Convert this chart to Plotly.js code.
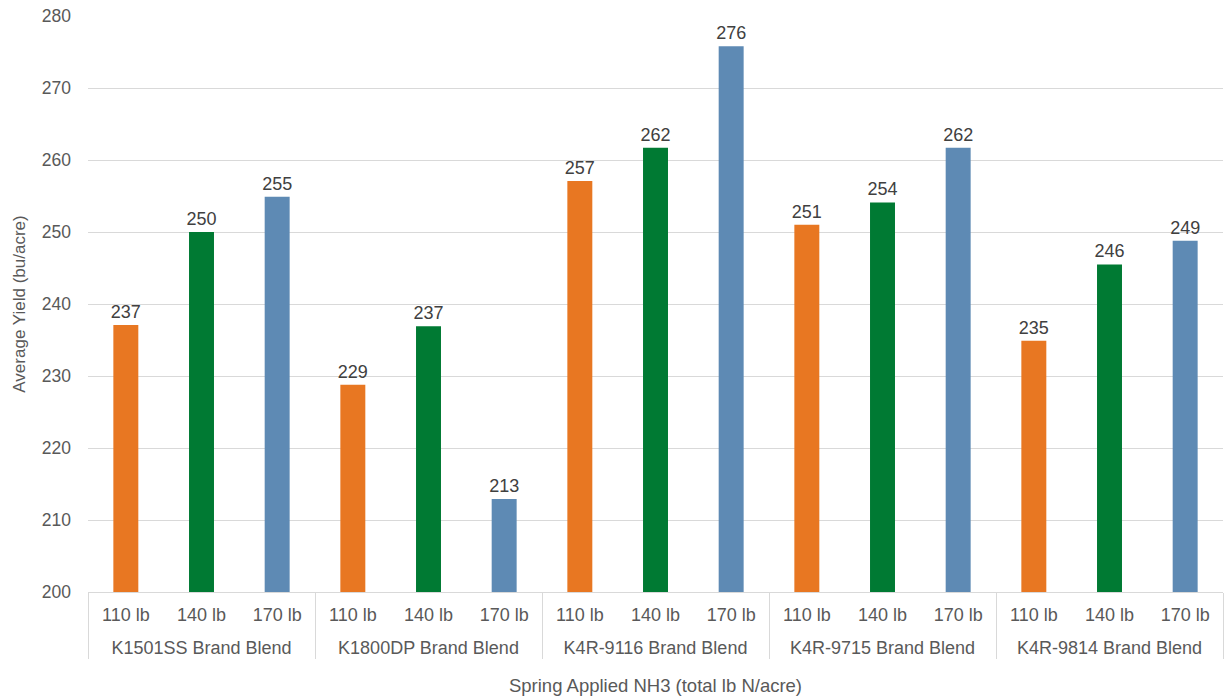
<!DOCTYPE html>
<html>
<head>
<meta charset="utf-8">
<script src="https://cdn.plot.ly/plotly-3.0.1.min.js"></script>
<style>
  html, body { margin: 0; padding: 0; background: #fff; }
  #chart { width: 1225px; height: 698px; }
</style>
</head>
<body>
<div id="chart"></div>
<script>
// Corn hybrids (brand blends) and spring NH3 rates
const blends = ["K1501SS Brand Blend", "K1800DP Brand Blend", "K4R-9116 Brand Blend", "K4R-9715 Brand Blend", "K4R-9814 Brand Blend"];
const rates = ["110 lb", "140 lb", "170 lb"];
const rateColors = ["#E87722", "#007A33", "#5E8AB4"];

// Average yield (bu/acre) for each blend, ordered 110 / 140 / 170 lb
const yieldK1501SS = [237.1, 250.0, 254.9];
const yieldK1800DP = [228.8, 236.9, 212.9];
const yieldK4R9116 = [257.1, 261.7, 275.8];
const yieldK4R9715 = [251.0, 254.1, 261.7];
const yieldK4R9814 = [234.9, 245.5, 248.8];

const yieldsByBlend = [yieldK1501SS, yieldK1800DP, yieldK4R9116, yieldK4R9715, yieldK4R9814];

// The rate labels carry a raised blank second line so the blend names sit lower
const rateTick = r => r + "<br><span style='baseline-shift:6px'>\u00a0</span>";

const xBlend = [], xRate = [], yVals = [], colors = [];
blends.forEach((b, i) => {
  rates.forEach((r, j) => {
    xBlend.push(b);
    xRate.push(rateTick(r));
    yVals.push(yieldsByBlend[i][j]);
    colors.push(rateColors[j]);
  });
});

const font = "Liberation Sans, Arial, Helvetica, sans-serif";

const trace = {
  type: "bar",
  x: [xBlend, xRate],
  y: yVals,
  marker: { color: colors },
  texttemplate: "%{y:.0f}",
  textposition: "outside",
  constraintext: "none",
  textfont: { family: font, size: 18, color: "#404040" },
  cliponaxis: false,
  hoverinfo: "y"
};

const layout = {
  width: 1225,
  height: 698,
  margin: { l: 88, r: 2, t: 16, b: 106 },
  paper_bgcolor: "#fff",
  plot_bgcolor: "#fff",
  bargap: 0.67,
  showlegend: false,
  font: { family: font, color: "#595959", size: 18 },
  xaxis: {
    type: "multicategory",
    showline: true,
    linecolor: "#d9d9d9",
    linewidth: 1,
    showdividers: true,
    dividercolor: "#d9d9d9",
    dividerwidth: 1,
    ticks: "",
    ticklabelstandoff: 6,
    tickfont: { family: font, size: 18, color: "#595959" },
    title: { text: "Spring Applied NH3 (total lb N/acre)", font: { family: font, size: 18.5, color: "#595959" }, standoff: 22 }
  },
  yaxis: {
    range: [200, 280],
    dtick: 10,
    showgrid: true,
    gridcolor: "#d9d9d9",
    zeroline: false,
    ticks: "",
    ticklabelstandoff: 16,
    tickfont: { family: font, size: 17.5, color: "#595959" },
    title: { text: "Average Yield (bu/acre)", font: { family: font, size: 17, color: "#595959" }, standoff: 11 }
  }
};

Plotly.newPlot("chart", [trace], layout, { displayModeBar: false, staticPlot: true });
</script>
</body>
</html>
